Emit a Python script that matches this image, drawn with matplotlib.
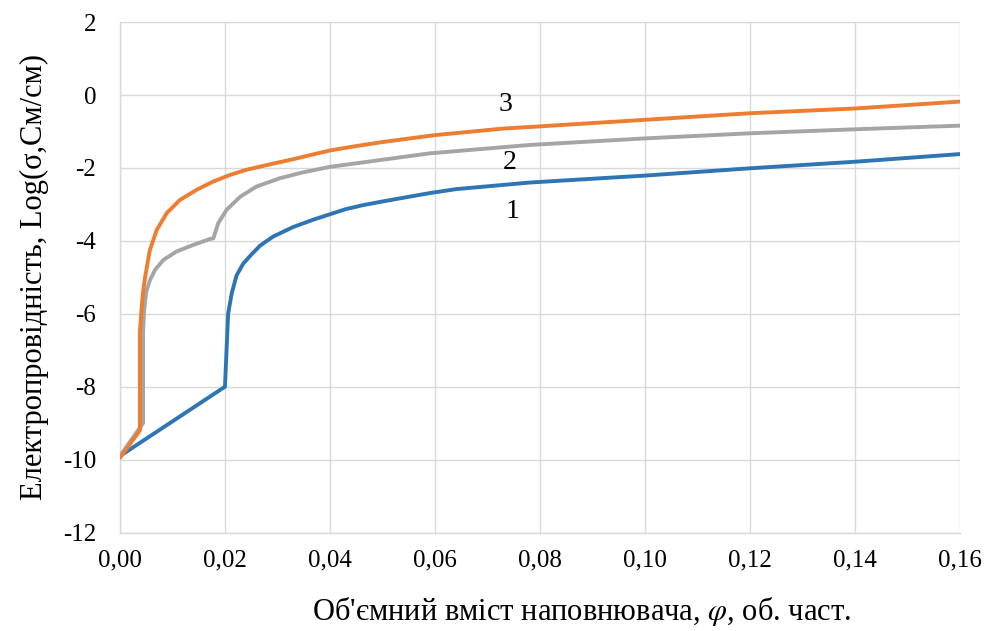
import matplotlib
matplotlib.use("Agg")
import matplotlib.pyplot as plt
from matplotlib.ticker import FuncFormatter

# Curve 1 (blue)
x1 = [0.0, 0.020, 0.0206, 0.0213, 0.0222, 0.0235, 0.0250, 0.0267, 0.0292, 0.0330,
      0.0370, 0.0400, 0.0430, 0.0463, 0.0500, 0.0527, 0.059, 0.0641, 0.0781,
      0.10, 0.12, 0.14, 0.16]
y1 = [-9.9, -8.0, -6.0, -5.43, -4.95, -4.62, -4.38, -4.13, -3.88, -3.62,
      -3.41, -3.27, -3.13, -3.02, -2.92, -2.85, -2.69, -2.58, -2.40,
      -2.21, -2.01, -1.83, -1.62]

# Curve 2 (gray)
x2 = [0.0, 0.0044, 0.0044, 0.0046, 0.0050, 0.0057, 0.0067, 0.0083, 0.0108, 0.0140,
      0.0171, 0.0178, 0.0187, 0.0203, 0.0229, 0.0260, 0.0305, 0.0349, 0.040, 0.059,
      0.078, 0.10, 0.12, 0.14, 0.16]
y2 = [-9.9, -9.0, -6.5, -5.9, -5.4, -5.08, -4.79, -4.52, -4.29, -4.11,
      -3.95, -3.93, -3.52, -3.15, -2.79, -2.51, -2.28, -2.12, -1.97, -1.60,
      -1.37, -1.19, -1.05, -0.94, -0.84]

# Curve 3 (orange)
x3 = [0.0, 0.0038, 0.0038, 0.0041, 0.0044, 0.0048, 0.0057, 0.0070, 0.0089, 0.0114,
      0.0146, 0.0178, 0.0210, 0.0241, 0.0286, 0.0330, 0.0362, 0.040, 0.045, 0.050,
      0.060, 0.073, 0.080, 0.10, 0.12, 0.14, 0.16]
y3 = [-9.95, -9.2, -6.5, -5.89, -5.4, -4.98, -4.25, -3.70, -3.24, -2.88,
      -2.60, -2.37, -2.19, -2.05, -1.90, -1.76, -1.65, -1.52, -1.40, -1.29,
      -1.10, -0.92, -0.86, -0.68, -0.50, -0.37, -0.18]

curve_labels = ["1", "2", "3"]
label_x = [0.0748, 0.0743, 0.0735]
label_y = [-3.2, -1.84, -0.27]

xticks = [0.00, 0.02, 0.04, 0.06, 0.08, 0.10, 0.12, 0.14, 0.16]
yticks = [-12, -10, -8, -6, -4, -2, 0, 2]

plt.rcParams['font.family'] = ['Liberation Serif', 'DejaVu Serif']
plt.rcParams['mathtext.fontset'] = 'stix'

fig = plt.figure(figsize=(9.85, 6.31), dpi=100)
ax = fig.add_axes([0.1218, 0.156, 0.8528, 0.809])

lw = 2.8
ax.plot(x1, y1, color='#2e75b6', lw=lw, solid_joinstyle='round', solid_capstyle='round', zorder=3)
ax.plot(x2, y2, color='#a5a5a5', lw=lw, solid_joinstyle='round', solid_capstyle='round', zorder=3)
ax.plot(x3, y3, color='#ed7d31', lw=lw, solid_joinstyle='round', solid_capstyle='round', zorder=3)

for t, lx, ly in zip(curve_labels, label_x, label_y):
    ax.text(lx, ly, t, fontsize=20, ha='center', va='center', zorder=4)

ax.set_xlim(0, 0.16)
ax.set_ylim(-12, 2)
ax.set_xticks(xticks)
ax.set_yticks(yticks)
ax.xaxis.set_major_formatter(FuncFormatter(lambda v, p: f"{v:.2f}".replace('.', ',')))
ax.yaxis.set_major_formatter(FuncFormatter(lambda v, p: f"{int(round(v))}"))
ax.tick_params(axis='both', length=0, labelsize=18, colors='black')
ax.tick_params(axis='x', pad=12)
ax.tick_params(axis='y', pad=17)

ax.grid(True, color='#d9d9d9', lw=1.0)
ax.set_axisbelow(True)
for s in ['top', 'right']:
    ax.spines[s].set_visible(False)
for s in ['left', 'bottom']:
    ax.spines[s].set_color('#d9d9d9')
    ax.spines[s].set_linewidth(1.0)

ax.set_xlabel(r"Об'ємний вміст наповнювача, $\varphi$, об. част.", fontsize=22)
ax.xaxis.set_label_coords(0.55, -0.122)
ax.set_ylabel("Електропровідність, Log(σ,См/см)", fontsize=22, labelpad=10)

fig.savefig("out.png", dpi=100)
